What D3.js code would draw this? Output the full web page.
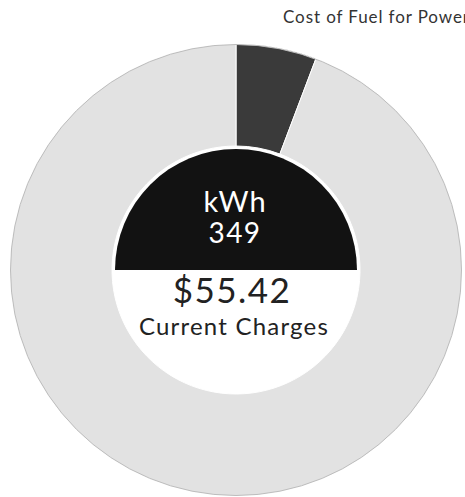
<!DOCTYPE html>
<html>
<head>
<meta charset="utf-8">
<script src="https://cdn.jsdelivr.net/npm/d3@7"></script>
<style>
  html, body { margin: 0; padding: 0; background: #fff; }
  svg { display: block; }
  text { font-family: Lato, "Open Sans", sans-serif; }
</style>
</head>
<body>
<div class="chart-container"></div>
<script>
const categories = ['Cost of Fuel for Power', 'Other Charges'];
const amounts = [3.19, 52.23];
const centerTop = ['kWh', '349'];
const centerBottom = ['$55.42', 'Current Charges'];

const width = 465;
const height = 497;
const cx = 236, cy = 270;
const outerR = 226, innerR = 124, coreR = 121;

const data = categories.map((c, i) => ({ name: c, value: amounts[i] }));

const svg = d3.select('.chart-container')
  .append('svg')
  .attr('width', width)
  .attr('height', height);

// title at top right, runs off the edge like the scan
svg.append('text')
  .attr('x', 283)
  .attr('y', 23)
  .attr('font-size', '17px')
  .attr('letter-spacing', '0.9px')
  .attr('fill', '#333')
  .text(categories[0]);

const g = svg.append('g').attr('transform', `translate(${cx}, ${cy})`);

const pie = d3.pie().sort(null).value(d => d.value);
const arc = d3.arc().innerRadius(innerR).outerRadius(outerR);
const color = d3.scaleOrdinal().domain(categories).range(['#3a3a3a', '#e2e2e2']);

g.selectAll('path.slice')
  .data(pie(data))
  .enter()
  .append('path')
  .attr('class', 'slice')
  .attr('d', arc)
  .attr('fill', d => color(d.data.name))
  .attr('stroke', '#fff')
  .attr('stroke-width', 1);

// faint scanned edge of the ring
g.append('circle').attr('r', outerR - 0.5)
  .attr('fill', 'none').attr('stroke', '#bdbdbd').attr('stroke-width', 1);

// centre: black upper half, white lower half
const half = d3.arc().innerRadius(0).outerRadius(coreR);
g.append('path')
  .attr('d', half({ startAngle: -Math.PI / 2, endAngle: Math.PI / 2 }))
  .attr('fill', '#121212');
g.append('path')
  .attr('d', half({ startAngle: Math.PI / 2, endAngle: Math.PI * 1.5 }))
  .attr('fill', '#fff');

g.append('text')
  .attr('x', -1).attr('y', -58)
  .attr('text-anchor', 'middle')
  .attr('font-size', '29px')
  .attr('letter-spacing', '1px')
  .attr('fill', '#fff')
  .text(centerTop[0]);
g.append('text')
  .attr('x', -1).attr('y', -27)
  .attr('text-anchor', 'middle')
  .attr('font-size', '28px')
  .attr('letter-spacing', '1.5px')
  .attr('fill', '#fff')
  .text(centerTop[1]);

g.append('text')
  .attr('x', -4).attr('y', 33)
  .attr('text-anchor', 'middle')
  .attr('font-size', '35px')
  .attr('letter-spacing', '1.5px')
  .attr('fill', '#222')
  .text(centerBottom[0]);
g.append('text')
  .attr('x', -2).attr('y', 65)
  .attr('text-anchor', 'middle')
  .attr('font-size', '24px')
  .attr('letter-spacing', '1.2px')
  .attr('fill', '#222')
  .text(centerBottom[1]);
</script>
</body>
</html>
